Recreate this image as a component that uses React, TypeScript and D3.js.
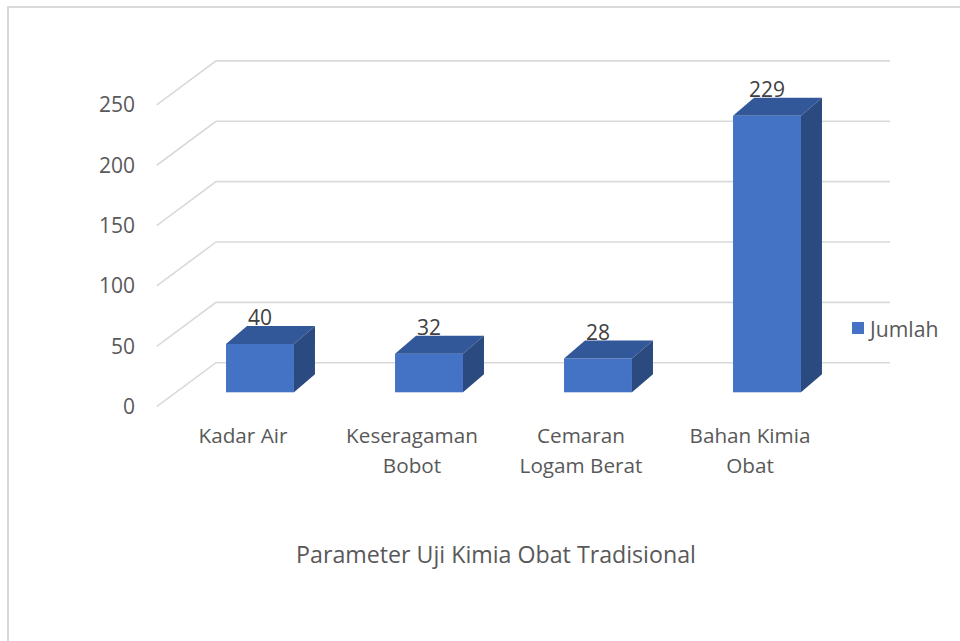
import React from "react";
import * as d3 from "d3";

const categories = ["Kadar Air", "Keseragaman Bobot", "Cemaran Logam Berat", "Bahan Kimia Obat"];
const categoryLines = [["Kadar Air"], ["Keseragaman", "Bobot"], ["Cemaran", "Logam Berat"], ["Bahan Kimia", "Obat"]];
const values = [40, 32, 28, 229];
const yTicks = [0, 50, 100, 150, 200, 250];
const seriesName = "Jumlah";
const axisTitle = "Parameter Uji Kimia Obat Tradisional";

const W = 960;
const H = 641;
const FONT = "'Open Sans', 'Noto Sans', sans-serif";
const TEXT = "#595959";
const GRID = "#D9D9D9";
const FRONT = "#4472C4";
const TOP = "#32589A";
const SIDE = "#2B4A7F";

export default function App() {
  // vertical value scale (pixels of height)
  const h = d3.scaleLinear().domain([0, 250]).range([0, 301.8]);
  // floor geometry
  const floorFrontX = 156.7;
  const floorFrontY = 406.7;
  const depthDX = 59.3;
  const depthDY = -44;
  const wallRight = 890;
  // bars
  const x = d3
    .scaleBand<string>()
    .domain(categories)
    .range([175.5, 851.5])
    .paddingInner(0.598)
    .paddingOuter(0.299);
  const barBase = 392.3;
  const bdx = 21;
  const bdy = -18;
  const labelShift = -17;

  return (
    <svg
      width={W}
      height={H}
      style={{ position: "absolute", left: 0, top: 0, background: "#fff" }}
      fontFamily={FONT}
    >
      <rect x={8} y={7} width={W + 20} height={H + 20} fill="#fff" stroke={GRID} strokeWidth={2} />

      {/* gridlines */}
      {yTicks.map((t) => {
        const fy = floorFrontY - h(t);
        const by = fy + depthDY;
        const bx = floorFrontX + depthDX;
        return (
          <g key={t}>
            <polyline
              points={`${floorFrontX},${fy} ${bx},${by} ${wallRight},${by}`}
              fill="none"
              stroke={GRID}
              strokeWidth={1.6}
            />
            <text
              x={135}
              y={fy}
              dy="0.35em"
              textAnchor="end"
              fontSize={21}
              fill={TEXT}
            >
              {t}
            </text>
          </g>
        );
      })}

      {/* bars */}
      {values.map((v, i) => {
        const c = categories[i];
        const x0 = x(c)!;
        const bw = x.bandwidth();
        const x1 = x0 + bw;
        const yTop = barBase - h(v);
        return (
          <g key={c}>
            <rect x={x0} y={yTop} width={bw} height={barBase - yTop} fill={FRONT} />
            <polygon
              points={`${x0},${yTop} ${x0 + bdx},${yTop + bdy} ${x1 + bdx},${yTop + bdy} ${x1},${yTop}`}
              fill={TOP}
            />
            <polygon
              points={`${x1},${yTop} ${x1 + bdx},${yTop + bdy} ${x1 + bdx},${barBase + bdy} ${x1},${barBase}`}
              fill={SIDE}
            />
            <text
              x={x0 + bw / 2}
              y={yTop + bdy - 0.7}
              textAnchor="middle"
              fontSize={21}
              fill="#404040"
            >
              {v}
            </text>
          </g>
        );
      })}

      {/* category labels */}
      {categories.map((c, i) => {
        const cx = x(c)! + x.bandwidth() / 2 + labelShift;
        return (
          <text key={c} x={cx} y={443.3} textAnchor="middle" fontSize={20.7} fill={TEXT}>
            {categoryLines[i].map((ln, j) => (
              <tspan key={j} x={cx} dy={j === 0 ? 0 : 29.5}>
                {ln}
              </tspan>
            ))}
          </text>
        );
      })}

      {/* axis title */}
      <text x={496} y={562.7} textAnchor="middle" fontSize={23.2} fill={TEXT}>
        {axisTitle}
      </text>

      {/* legend */}
      <rect x={852} y={322} width={12} height={12} fill={FRONT} />
      <text x={870} y={336.5} fontSize={21.2} fill={TEXT}>
        {seriesName}
      </text>
    </svg>
  );
}
